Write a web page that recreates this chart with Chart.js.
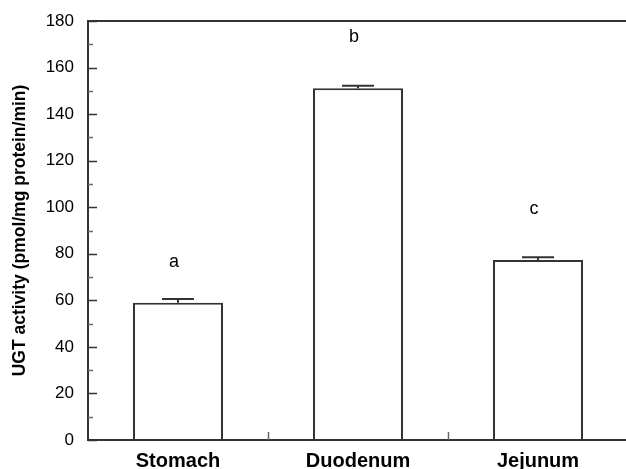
<!DOCTYPE html>
<html>
<head>
<meta charset="utf-8">
<script src="https://cdn.jsdelivr.net/npm/chart.js@4/dist/chart.umd.min.js"></script>
<style>
html, body { margin: 0; padding: 0; background: #fff; overflow: hidden; }
#wrap { width: 630px; height: 469px; }
</style>
</head>
<body>
<div id="wrap"><canvas id="ugtChart"></canvas></div>
<script>
const regions = ['Stomach', 'Duodenum', 'Jejunum'];
const activity = [59.0, 151.1, 77.3];
const sem = [1.6, 1.1, 1.2];
const letters = ['a', 'b', 'c'];
const letterY = [76.6, 173.2, 99.1];
const yMajor = [0, 20, 40, 60, 80, 100, 120, 140, 160, 180];

const axisColor = '#333';
const fontFam = 'Arial, "Liberation Sans", sans-serif';

// inward ticks, top frame, error bars and significance letters
const extras = {
  id: 'extras',
  afterDatasetsDraw(chart) {
    const c = chart.ctx;
    const x = chart.scales.x;
    const y = chart.scales.y;
    const area = chart.chartArea;
    c.save();
    c.strokeStyle = axisColor;
    c.lineWidth = 2;

    // error bars
    const meta = chart.getDatasetMeta(0);
    meta.data.forEach(function (bar, i) {
      const top = y.getPixelForValue(activity[i] + sem[i]);
      const base = y.getPixelForValue(activity[i]);
      c.beginPath();
      c.moveTo(bar.x, base);
      c.lineTo(bar.x, top);
      c.moveTo(bar.x - 16, top);
      c.lineTo(bar.x + 16, top);
      c.stroke();
    });

    // frame lines
    c.beginPath();
    c.moveTo(area.left, area.top);
    c.lineTo(area.right, area.top);
    c.moveTo(area.left, area.top - 1);
    c.lineTo(area.left, area.bottom + 1);
    c.moveTo(area.left - 1, area.bottom);
    c.lineTo(area.right, area.bottom);
    c.stroke();

    // y ticks, inward
    c.lineWidth = 1.5;
    for (let v = 0; v <= 180; v += 10) {
      const py = Math.round(y.getPixelForValue(v)) + 0.5;
      const len = v % 20 === 0 ? 9 : 5;
      c.strokeStyle = v % 20 === 0 ? axisColor : '#666';
      c.beginPath();
      c.moveTo(area.left, py);
      c.lineTo(area.left + len, py);
      c.stroke();
    }

    // category separators on x axis
    c.strokeStyle = '#666';
    for (let i = 0; i < regions.length - 1; i++) {
      const px = Math.round((x.getPixelForValue(i) + x.getPixelForValue(i + 1)) / 2) + 0.5;
      c.beginPath();
      c.moveTo(px, area.bottom);
      c.lineTo(px, area.bottom - 8);
      c.stroke();
    }

    // letters
    c.fillStyle = '#000';
    c.font = '18px ' + fontFam;
    c.textAlign = 'center';
    c.textBaseline = 'middle';
    letters.forEach(function (t, i) {
      c.fillText(t, x.getPixelForValue(i) - 4, y.getPixelForValue(letterY[i]));
    });
    c.restore();
  }
};

new Chart(document.getElementById('ugtChart').getContext('2d'), {
  type: 'bar',
  data: {
    labels: regions,
    datasets: [{
      data: activity,
      backgroundColor: '#fff',
      borderColor: axisColor,
      borderWidth: 2,
      borderSkipped: 'bottom',
      barPercentage: 0.5,
      categoryPercentage: 1.0
    }]
  },
  options: {
    responsive: true,
    maintainAspectRatio: false,
    animation: false,
    layout: { padding: { top: 21, right: 2, left: 0, bottom: 0 } },
    plugins: { legend: { display: false }, tooltip: { enabled: false } },
    scales: {
      x: {
        grid: { display: false },
        border: { display: false },
        ticks: {
          color: '#000',
          padding: 1,
          font: { family: fontFam, size: 20, weight: 'bold' }
        },
        afterFit(scale) { scale.height = 29; }
      },
      y: {
        min: 0,
        max: 180,
        afterBuildTicks(scale) { scale.ticks = yMajor.map(v => ({ value: v })); },
        grid: { display: false },
        border: { display: false },
        ticks: {
          color: '#000',
          padding: 6,
          font: { family: fontFam, size: 17 }
        },
        title: {
          display: true,
          text: 'UGT activity (pmol/mg protein/min)',
          color: '#000',
          padding: { top: 10, bottom: 0 },
          font: { family: fontFam, size: 17.5, weight: 'bold' }
        },
        afterFit(scale) { scale.width = 88; }
      }
    }
  },
  plugins: [extras]
});
</script>
</body>
</html>
